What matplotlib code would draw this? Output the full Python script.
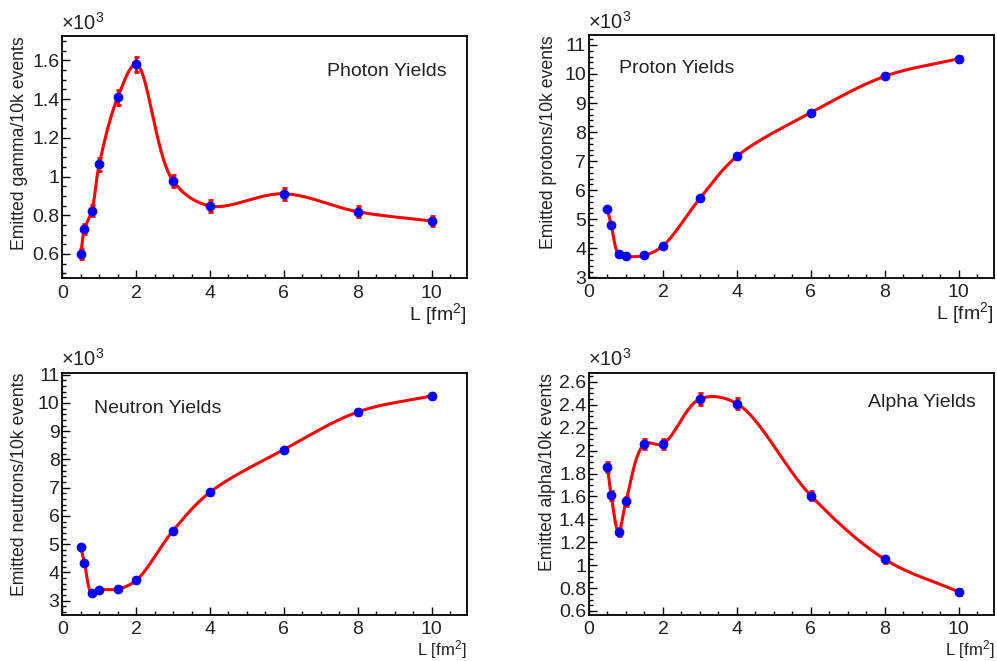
"""
ROOT-style 2x2 panel of emitted particle yields vs L, with smooth curves.
"""

import matplotlib
import numpy as np

matplotlib.use("Agg")
import matplotlib.pyplot as plt
from matplotlib.ticker import FuncFormatter, MultipleLocator

plt.rcParams["font.family"] = ["Liberation Sans", "DejaVu Sans"]
plt.rcParams["mathtext.fontset"] = "custom"
plt.rcParams["mathtext.rm"] = "Liberation Sans"
plt.rcParams["mathtext.it"] = "Liberation Sans:italic"

# ---- data (yields in units of 10^3 per 10k events) ----
L_VALUES = [0.5, 0.6, 0.8, 1.0, 1.5, 2.0, 3.0, 4.0, 6.0, 8.0, 10.0]

PHOTON = [0.600, 0.728, 0.824, 1.063, 1.409, 1.579, 0.977, 0.848, 0.911, 0.818, 0.770]
PHOTON_ERR = [0.024, 0.027, 0.029, 0.033, 0.038, 0.040, 0.031, 0.029, 0.030, 0.029, 0.028]

PROTON = [5.342, 4.813, 3.804, 3.724, 3.760, 4.090, 5.720, 7.167, 8.668, 9.920, 10.527]
PROTON_ERR = [0.073, 0.069, 0.062, 0.061, 0.061, 0.064, 0.076, 0.085, 0.093, 0.100, 0.103]

NEUTRON = [4.900, 4.345, 3.260, 3.378, 3.410, 3.720, 5.480, 6.840, 8.350, 9.680, 10.250]
NEUTRON_ERR = [0.070, 0.066, 0.057, 0.058, 0.058, 0.061, 0.074, 0.083, 0.091, 0.098, 0.101]

ALPHA = [1.860, 1.610, 1.287, 1.558, 2.058, 2.061, 2.452, 2.411, 1.607, 1.051, 0.766]
ALPHA_ERR = [0.043, 0.040, 0.036, 0.039, 0.045, 0.045, 0.050, 0.049, 0.040, 0.032, 0.028]

X_LABEL = "L [fm$^{2}$]"
MULT_LABEL = r"$\times$10$^{3}$"

FIG_W, FIG_H = 997, 661
X_LIM = (0.0, 10.95)


def px_rect(left, top, right, bottom):
    """Figure-fraction rect from pixel box (y measured from the top)."""
    return [left / FIG_W, 1 - bottom / FIG_H, (right - left) / FIG_W, (bottom - top) / FIG_H]


PANELS = [
    dict(rect=px_rect(62.3, 36.0, 466.7, 278.3), y=PHOTON, err=PHOTON_ERR,
         ylabel="Emitted gamma/10k events", title="Photon Yields",
         tpos=(0.951, 0.835), tha="right", ylim=(0.4745, 1.7255),
         major=0.2, minor=0.05, label_x=-0.107, bottom_row=False),
    dict(rect=px_rect(589.0, 35.0, 994.0, 277.7), y=PROTON, err=PROTON_ERR,
         ylabel="Emitted protons/10k events", title="Proton Yields",
         tpos=(0.074, 0.845), tha="left", ylim=(2.99, 11.34),
         major=1.0, minor=0.2, label_x=-0.101, bottom_row=False),
    dict(rect=px_rect(62.3, 372.7, 466.7, 615.0), y=NEUTRON, err=NEUTRON_ERR,
         ylabel="Emitted neutrons/10k events", title="Neutron Yields",
         tpos=(0.078, 0.835), tha="left", ylim=(2.494, 11.07),
         major=1.0, minor=0.2, label_x=-0.107, bottom_row=True),
    dict(rect=px_rect(589.0, 372.7, 994.0, 615.0), y=ALPHA, err=ALPHA_ERR,
         ylabel="Emitted alpha/10k events", title="Alpha Yields",
         tpos=(0.9556, 0.857), tha="right", ylim=(0.565, 2.681),
         major=0.2, minor=0.05, label_x=-0.103, bottom_row=True),
]


def catmull_rom(px, py, n=60, alpha=0.5):
    """Centripetal Catmull-Rom curve through the given (screen-space) points."""
    pts = np.column_stack([px, py]).astype(float)
    pts = np.vstack([2 * pts[0] - pts[1], pts, 2 * pts[-1] - pts[-2]])
    out = []
    for i in range(1, len(pts) - 2):
        p0, p1, p2, p3 = pts[i - 1:i + 3]
        t0 = 0.0
        t1 = t0 + max(np.linalg.norm(p1 - p0), 1e-9) ** alpha
        t2 = t1 + max(np.linalg.norm(p2 - p1), 1e-9) ** alpha
        t3 = t2 + max(np.linalg.norm(p3 - p2), 1e-9) ** alpha
        t = np.linspace(t1, t2, n)[:, None]
        a1 = (t1 - t) / (t1 - t0) * p0 + (t - t0) / (t1 - t0) * p1
        a2 = (t2 - t) / (t2 - t1) * p1 + (t - t1) / (t2 - t1) * p2
        a3 = (t3 - t) / (t3 - t2) * p2 + (t - t2) / (t3 - t2) * p3
        b1 = (t2 - t) / (t2 - t0) * a1 + (t - t0) / (t2 - t0) * a2
        b2 = (t3 - t) / (t3 - t1) * a2 + (t - t1) / (t3 - t1) * a3
        c = (t2 - t) / (t2 - t1) * b1 + (t - t1) / (t2 - t1) * b2
        out.append(c if i == 1 else c[1:])
    return np.vstack(out)


def smooth_curve(ax, x, y):
    """Spline in display space, mapped back to data coordinates."""
    trans = ax.transData
    disp = trans.transform(np.column_stack([x, y]))
    curve = catmull_rom(disp[:, 0], disp[:, 1])
    data = trans.inverted().transform(curve)
    return data[:, 0], data[:, 1]


def style_axes(ax, p):
    ax.set_xlim(*X_LIM)
    ax.set_ylim(*p["ylim"])
    ax.xaxis.set_major_locator(MultipleLocator(2))
    ax.xaxis.set_minor_locator(MultipleLocator(0.5))
    ax.yaxis.set_major_locator(MultipleLocator(p["major"]))
    ax.yaxis.set_minor_locator(MultipleLocator(p["minor"]))
    fmt = FuncFormatter(lambda v, _: f"{v:g}")
    ax.xaxis.set_major_formatter(fmt)
    ax.yaxis.set_major_formatter(fmt)
    ax.tick_params(which="both", direction="in", top=False, right=False,
                   width=1.0, color="black")
    ax.tick_params(which="major", length=6, labelsize=14, labelcolor="#222222")
    ax.tick_params(which="minor", length=3)
    ax.tick_params(axis="x", which="major", pad=4.5)
    ax.tick_params(axis="y", which="major", pad=2)
    for spine in ax.spines.values():
        spine.set_linewidth(1.3)
        spine.set_color("black")


def main():
    fig = plt.figure(figsize=(FIG_W / 100, FIG_H / 100), dpi=100)

    for p in PANELS:
        ax = fig.add_axes(p["rect"])
        style_axes(ax, p)

        ax.errorbar(L_VALUES, p["y"], yerr=p["err"], fmt="none", ecolor="#ff0000",
                    elinewidth=2.0, capsize=1.8, capthick=2.0, zorder=2)
        cx, cy = smooth_curve(ax, L_VALUES, p["y"])
        ax.plot(cx, cy, color="#ff0000", lw=2.2, zorder=3)
        ax.plot(L_VALUES, p["y"], "o", color="#0000ff", ms=6.0, mec="#0000ff", zorder=4)

        ax.text(p["tpos"][0], p["tpos"][1], p["title"], transform=ax.transAxes,
                ha=p["tha"], va="baseline", fontsize=14, color="#222222")
        ax.text(p["label_x"], 1.0, p["ylabel"], transform=ax.transAxes,
                rotation=90, ha="center", va="top", fontsize=12.7, color="#222222")
        ax.text(-0.003, 1.01, MULT_LABEL, transform=ax.transAxes,
                ha="left", va="bottom", fontsize=14.5, color="#222222")
        if p["bottom_row"]:
            # little room at the figure's bottom edge: pin the title to it
            ax.annotate(X_LABEL, xy=(1.0, 0), xycoords=("axes fraction", "figure pixels"),
                        ha="right", va="bottom", fontsize=12, color="#222222")
        else:
            ax.text(1.0, -0.172, X_LABEL, transform=ax.transAxes,
                    ha="right", va="baseline", fontsize=14, color="#222222")

    fig.savefig("out.png", dpi=100)
    plt.close(fig)


if __name__ == "__main__":
    main()
